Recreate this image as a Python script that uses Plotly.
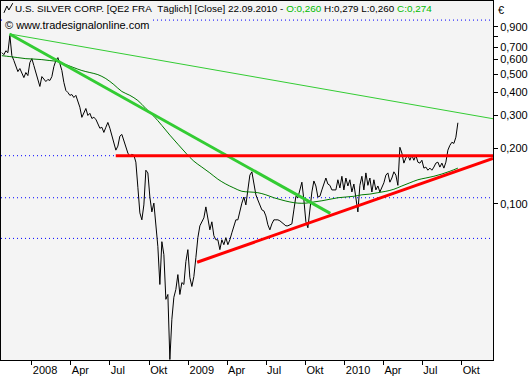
import numpy as np
import pandas as pd
import plotly.graph_objects as go

# ---------------- data ----------------
start_date = "2007-10-23"
last_date = "2010-09-22"

close = [
    0.654, 0.638, 0.670, 0.654, 0.810, 0.630, 0.593, 0.550, 0.517, 0.537,
    0.511, 0.480, 0.511, 0.492, 0.578, 0.607, 0.557, 0.511, 0.463, 0.430,
    0.486, 0.474, 0.457, 0.469, 0.463, 0.486, 0.550, 0.593, 0.615, 0.571,
    0.524, 0.452, 0.409, 0.399, 0.385, 0.389, 0.375, 0.385, 0.361, 0.332,
    0.293, 0.312, 0.327, 0.300, 0.308, 0.289, 0.293, 0.286, 0.269, 0.256,
    0.259, 0.243, 0.259, 0.275, 0.256, 0.232, 0.212, 0.195, 0.205, 0.232,
    0.237, 0.220, 0.205, 0.188, 0.181, 0.185, 0.183, 0.168, 0.123, 0.0895,
    0.0821, 0.0988, 0.152, 0.147, 0.109, 0.0906, 0.101, 0.0772, 0.0588, 0.0368,
    0.0626, 0.0533, 0.0306, 0.0325, 0.0145, 0.0239, 0.0314, 0.0346, 0.0416, 0.0325,
    0.0377, 0.0368, 0.0489, 0.0567, 0.0401, 0.0359, 0.0406, 0.0513, 0.0658, 0.0762,
    0.0801, 0.0841, 0.0964, 0.0851, 0.0725, 0.0801, 0.0674, 0.0641, 0.0641, 0.0567,
    0.0641, 0.0603, 0.0658, 0.0603, 0.0641, 0.0699, 0.0753, 0.0821, 0.0821, 0.0929,
    0.101, 0.109, 0.0988, 0.119, 0.143, 0.149, 0.131, 0.112, 0.105, 0.0988,
    0.0929, 0.0917, 0.0862, 0.0772, 0.0725, 0.0781, 0.0821, 0.0821, 0.0821, 0.0811,
    0.0791, 0.0781, 0.0762, 0.0762, 0.0772, 0.0781, 0.0929, 0.110, 0.108, 0.119,
    0.131, 0.105, 0.0801, 0.0744, 0.0952, 0.116, 0.133, 0.125, 0.109, 0.110,
    0.119, 0.130, 0.138, 0.128, 0.126, 0.119, 0.119, 0.119, 0.135, 0.122,
    0.141, 0.119, 0.138, 0.125, 0.135, 0.116, 0.128, 0.110, 0.0906, 0.126,
    0.141, 0.119, 0.147, 0.126, 0.138, 0.116, 0.135, 0.119, 0.125, 0.116,
    0.123, 0.130, 0.143, 0.147, 0.131, 0.138, 0.149, 0.143, 0.126, 0.202,
    0.188, 0.166, 0.177, 0.183, 0.172, 0.183, 0.172, 0.183, 0.168, 0.166,
    0.172, 0.156, 0.158, 0.152, 0.156, 0.152, 0.158, 0.166, 0.168, 0.158,
    0.166, 0.156, 0.168, 0.195, 0.207, 0.215, 0.212, 0.229, 0.274,
]

moving_avg = [
    0.630, 0.623, 0.615, 0.607, 0.604, 0.600, 0.593, 0.585, 0.564, 0.543,
    0.524, 0.511, 0.498, 0.474, 0.440, 0.404, 0.385, 0.361, 0.327, 0.297,
    0.265, 0.235, 0.210, 0.188, 0.170, 0.158, 0.147, 0.136, 0.128, 0.122,
    0.117, 0.116, 0.115, 0.112, 0.108, 0.105, 0.1025, 0.101, 0.101, 0.1025,
    0.104, 0.106, 0.108, 0.109, 0.110, 0.112, 0.113, 0.115, 0.117, 0.120,
    0.125, 0.130, 0.135, 0.138, 0.141, 0.145, 0.150, 0.156,
]

# trend lines: (dates, prices)
down_trend_dates = ["2007-11-10", "2009-11-28"]
down_trend_vals = [0.825, 0.0889]
long_trend_dates = ["2007-11-10", "2010-12-13"]
long_trend_vals = [0.825, 0.288]
resist_dates = ["2008-07-15", "2010-12-13"]
resist_vals = [0.182, 0.182]
support_dates = ["2009-01-21", "2010-12-13"]
support_vals = [0.0485, 0.176]

grid_levels = [0.98, 0.182, 0.108, 0.0652]

tick_dates = ["2008-01-01", "2008-04-01", "2008-07-01", "2008-10-01",
              "2009-01-01", "2009-04-01", "2009-07-01", "2009-10-01",
              "2010-01-01", "2010-04-01", "2010-07-01", "2010-10-01"]
tick_text = ["2008", "Apr", "Jul", "Okt", "2009", "Apr", "Jul", "Okt",
             "2010", "Apr", "Jul", "Okt"]

y_tick_vals = [0.1, 0.2, 0.3, 0.4, 0.5, 0.6, 0.7, 0.8, 0.9]
y_tick_text = ["0,100", "0,200", "0,300", "0,400", "0,500", "0,600", "0,700", "", "0,900"]

ohlc = {"O": "0,260", "H": "0,279", "L": "0,260", "C": "0,274"}

x_range = ["2007-10-21", "2010-12-13"]
y_range = [0.01441, 1.242]

# ---------------- figure ----------------
dates = pd.date_range(start_date, last_date, periods=len(close))
ma_dates = pd.date_range(start_date, last_date, periods=len(moving_avg))

fig = go.Figure()

for g in grid_levels:
    fig.add_trace(go.Scatter(x=x_range, y=[g, g], mode="lines",
                             line=dict(color="#0000ff", width=1, dash="1px,3px"),
                             hoverinfo="skip", showlegend=False))

fig.add_trace(go.Scatter(x=dates, y=close, mode="lines",
                         line=dict(color="black", width=1), showlegend=False))
fig.add_trace(go.Scatter(x=ma_dates, y=moving_avg, mode="lines",
                         line=dict(color="#007a00", width=1, shape="spline"), showlegend=False))
fig.add_trace(go.Scatter(x=long_trend_dates, y=long_trend_vals, mode="lines",
                         line=dict(color="#33cc33", width=1), showlegend=False))
fig.add_trace(go.Scatter(x=down_trend_dates, y=down_trend_vals, mode="lines",
                         line=dict(color="#33cc33", width=3), showlegend=False))
fig.add_trace(go.Scatter(x=resist_dates, y=resist_vals, mode="lines",
                         line=dict(color="#ff0000", width=3), showlegend=False))
fig.add_trace(go.Scatter(x=support_dates, y=support_vals, mode="lines",
                         line=dict(color="#ff0000", width=3), showlegend=False))

font_family = "Liberation Sans, Arial, sans-serif"

fig.update_layout(
    width=531, height=380,
    margin=dict(l=1, r=38, t=1, b=20),
    paper_bgcolor="white",
    plot_bgcolor="#f4f4f4",
    showlegend=False,
    font=dict(family=font_family, size=11, color="black"),
    xaxis=dict(
        type="date", range=x_range,
        tickvals=tick_dates, ticktext=tick_text,
        ticks="outside", ticklen=4, tickcolor="black", tickwidth=1,
        ticklabelposition="outside right",
        showline=True, mirror=True, linecolor="black", linewidth=1,
        showgrid=False, zeroline=False,
        tickfont=dict(family=font_family, size=11, color="black"),
    ),
    yaxis=dict(
        type="log", side="right",
        range=[np.log10(y_range[0]), np.log10(y_range[1])],
        tickvals=y_tick_vals, ticktext=y_tick_text,
        ticks="outside", ticklen=4, tickcolor="black", tickwidth=1,
        showline=True, mirror=True, linecolor="black", linewidth=1,
        showgrid=False, zeroline=False,
        tickfont=dict(family=font_family, size=11, color="black"),
    ),
)

green = "#00bb00"
title = ("U.S. SILVER CORP. [QE2 FRA\u00a0 Täglich] [Close] " + last_date[8:10] + "." + last_date[5:7] + "." + last_date[0:4]
         + " - " + f'<span style="color:{green}">O:{ohlc["O"]}</span>'
         + f' H:{ohlc["H"]} L:{ohlc["L"]} '
         + f'<span style="color:{green}">C:{ohlc["C"]}</span>')

fig.add_annotation(xref="paper", yref="paper", x=0.024, y=1.0, xanchor="left", yanchor="top",
                   text=title, showarrow=False, font=dict(size=9.9, color="black"),
                   bgcolor="#f4f4f4", borderpad=1)
fig.add_annotation(xref="paper", yref="paper", x=0.004, y=0.956, xanchor="left", yanchor="top",
                   text="© www.tradesignalonline.com", showarrow=False,
                   font=dict(size=11, color="black"), bgcolor="#f4f4f4", borderpad=1)
fig.add_annotation(xref="paper", yref="paper", x=1.006, y=0.998, xanchor="left", yanchor="top",
                   text="€", showarrow=False, font=dict(size=11, color="black"))

# small line-chart icon in the header
fig.add_shape(type="path", xref="paper", yref="paper",
              path="M 0.006 0.967 L 0.012 0.986 L 0.016 0.975 L 0.024 0.994",
              line=dict(color="black", width=1))

fig.write_html("out.html", config={"displayModeBar": False},
               post_script="document.body.style.margin='0px';")
